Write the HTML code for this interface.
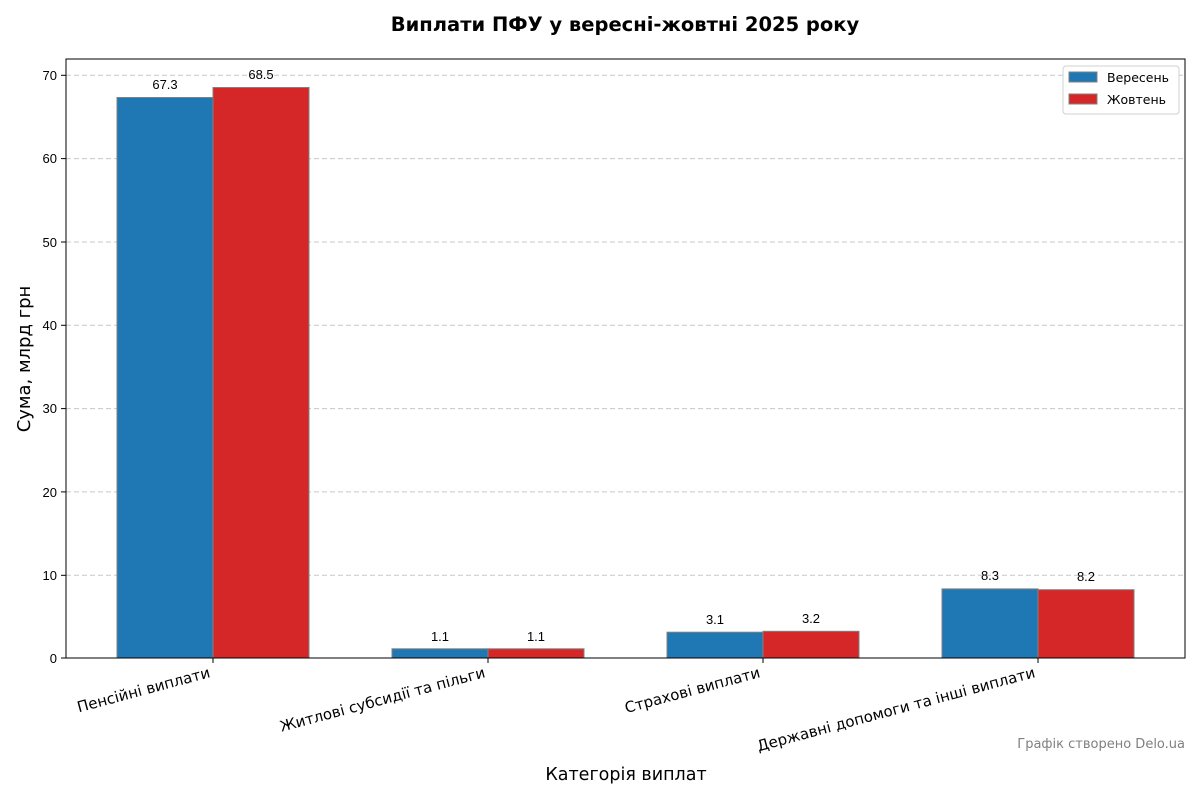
<!DOCTYPE html>
<html><head><meta charset="utf-8"><style>
html,body{margin:0;padding:0;background:#fff;}
svg text{font-family:"Liberation Sans","DejaVu Sans",sans-serif;}
svg text.d{font-family:"DejaVu Sans","Liberation Sans",sans-serif;}
</style></head><body>
<svg width="1200" height="800" xmlns="http://www.w3.org/2000/svg">
<rect width="1200" height="800" fill="#fff"/>
<text class="d" x="625" y="31" text-anchor="middle" font-size="19.5" font-weight="bold" fill="#000">Виплати ПФУ у вересні-жовтні 2025 року</text>
<g stroke="#c8c8c8" stroke-dasharray="5,3" stroke-width="1">
<line x1="66" x2="1185" y1="575.3" y2="575.3"/>
<line x1="66" x2="1185" y1="491.9" y2="491.9"/>
<line x1="66" x2="1185" y1="408.6" y2="408.6"/>
<line x1="66" x2="1185" y1="325.3" y2="325.3"/>
<line x1="66" x2="1185" y1="242" y2="242"/>
<line x1="66" x2="1185" y1="158.6" y2="158.6"/>
<line x1="66" x2="1185" y1="75.3" y2="75.3"/>
</g>
<g stroke="#808080" stroke-width="1">
<rect x="117" y="97.5" width="96" height="560.5" fill="#1f77b4"/>
<rect x="213" y="87.5" width="96" height="570.5" fill="#d62728"/>
<rect x="392" y="648.8" width="96" height="9.2" fill="#1f77b4"/>
<rect x="488" y="648.8" width="96" height="9.2" fill="#d62728"/>
<rect x="667" y="632.2" width="96" height="25.8" fill="#1f77b4"/>
<rect x="763" y="631.3" width="96" height="26.7" fill="#d62728"/>
<rect x="942" y="588.9" width="96" height="69.1" fill="#1f77b4"/>
<rect x="1038" y="589.7" width="96" height="68.3" fill="#d62728"/>
</g>
<g font-size="13" text-anchor="middle" fill="#000">
<text x="165" y="89">67.3</text><text x="261" y="79">68.5</text>
<text x="440" y="641">1.1</text><text x="536" y="641">1.1</text>
<text x="715" y="624">3.1</text><text x="811" y="623">3.2</text>
<text x="990" y="580">8.3</text><text x="1086" y="581">8.2</text>
</g>
<rect x="66" y="59" width="1119" height="599" fill="none" stroke="#000" stroke-width="1"/>
<g stroke="#000"><line x1="61" x2="66" y1="658" y2="658"/><line x1="61" x2="66" y1="575.3" y2="575.3"/><line x1="61" x2="66" y1="491.9" y2="491.9"/><line x1="61" x2="66" y1="408.6" y2="408.6"/><line x1="61" x2="66" y1="325.3" y2="325.3"/><line x1="61" x2="66" y1="242" y2="242"/><line x1="61" x2="66" y1="158.6" y2="158.6"/><line x1="61" x2="66" y1="75.3" y2="75.3"/>
<line x1="213" x2="213" y1="658" y2="663"/><line x1="488" x2="488" y1="658" y2="663"/><line x1="763" x2="763" y1="658" y2="663"/><line x1="1038" x2="1038" y1="658" y2="663"/></g>
<g font-size="13" text-anchor="end" fill="#000">
<text x="57" y="663">0</text><text x="57" y="580">10</text><text x="57" y="497">20</text><text x="57" y="413">30</text><text x="57" y="330">40</text><text x="57" y="247">50</text><text x="57" y="163">60</text><text x="57" y="80">70</text>
</g>
<g font-size="15" text-anchor="end" fill="#000">
<text class="d" transform="translate(211,677) rotate(-15)">Пенсійні виплати</text>
<text class="d" transform="translate(486,677) rotate(-15)">Житлові субсидії та пільги</text>
<text class="d" transform="translate(761,677) rotate(-15)">Страхові виплати</text>
<text class="d" transform="translate(1036,677) rotate(-15)">Державні допомоги та інші виплати</text>
</g>
<text class="d" x="626" y="780" text-anchor="middle" font-size="17.5" fill="#000">Категорія виплат</text>
<text class="d" transform="translate(30,359) rotate(-90)" text-anchor="middle" font-size="18" fill="#000">Сума, млрд грн</text>
<text class="d" x="1185" y="748" text-anchor="end" font-size="13" fill="#808080">Графік створено Delo.ua</text>
<rect x="1063" y="66" width="116" height="48" rx="3" fill="#fff" stroke="#d0d0d0"/>
<rect x="1069" y="72" width="28" height="10" fill="#1f77b4" stroke="#808080"/>
<rect x="1069" y="94" width="28" height="10" fill="#d62728" stroke="#808080"/>
<text class="d" x="1107" y="82" font-size="12.5" fill="#000">Вересень</text>
<text class="d" x="1107" y="104" font-size="12.5" fill="#000">Жовтень</text>
</svg>
</body></html>
